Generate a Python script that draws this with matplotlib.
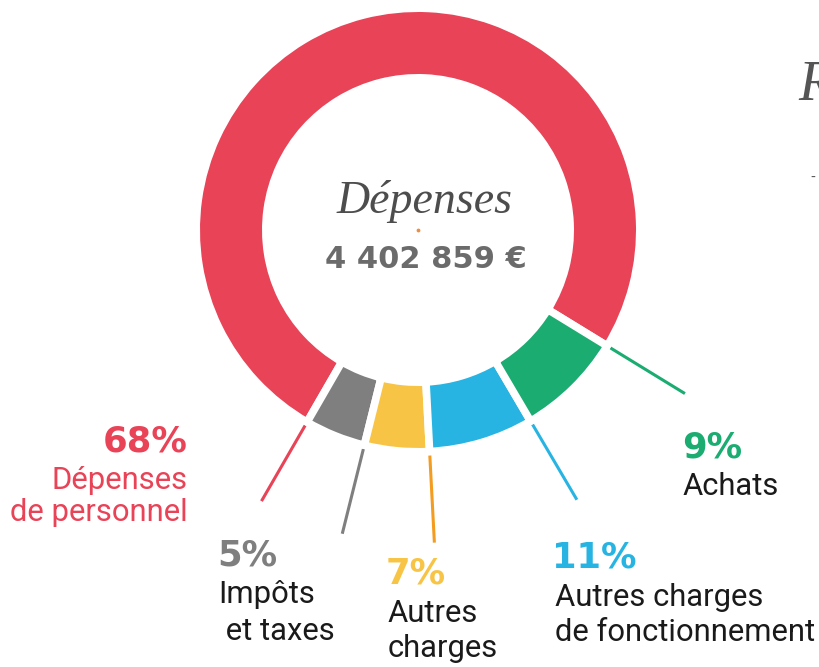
import matplotlib.pyplot as plt
import numpy as np

W, H = 820, 667

# slices, counter-clockwise starting at the red/green boundary
names = ['Dépenses\nde personnel', 'Impôts\n et taxes', 'Autres\ncharges',
         'Autres charges\nde fonctionnement', 'Achats']
pct_labels = ['68%', '5%', '7%', '11%', '9%']
arc_deg = [271.5, 16.0, 17.0, 27.5, 28.0]   # drawn arc sizes
colors = ['#E84357', '#7F7F7F', '#F8C445', '#27B4E2', '#1AAC70']
line_colors = ['#E84357', '#7F7F7F', '#F39C1F', '#27B4E2', '#1AAC70']
total_label = '4 402 859 €'
title = 'Dépenses'

fig = plt.figure(figsize=(W / 100, H / 100), dpi=100)
ax = fig.add_axes([0, 0, 1, 1])

cx, cy, R = 418, 230, 218  # ring centre and outer radius in pixels
lw = 5.5
pad = lw * 1.389 / 2 / R
wedges, _ = ax.pie(arc_deg, colors=colors, startangle=-31.5, counterclock=True,
                   radius=1 + pad,
                   wedgeprops=dict(width=62 / R + 2 * pad, edgecolor='white', linewidth=lw))

ax.set_xlim(-cx / R, (W - cx) / R)
ax.set_ylim(-(H - cy) / R, cy / R)
ax.set_aspect('equal')
ax.axis('off')

# leader lines along the ccw edge of every slice
for i, w in enumerate(wedges):
    a = np.deg2rad(w.theta2)
    r0 = 0.72 if i == 2 else 0.99
    ax.plot([r0 * np.cos(a), 1.436 * np.cos(a)], [r0 * np.sin(a), 1.436 * np.sin(a)],
            color=line_colors[i], lw=2.2, solid_capstyle='butt', zorder=0)

ax.scatter([0], [0], s=3, color='#E8904A', zorder=3)


def ftext(x, y, s, **kw):
    fig.text(x / W, 1 - y / H, s, **kw)


pfont = dict(family='DejaVu Sans', weight='bold', fontsize=25.5, va='baseline')
tfont = dict(family='Roboto', fontsize=22.3, va='baseline', color='#1a1a1a')

# 68%
ftext(188, 452, pct_labels[0], ha='right', color=colors[0], **pfont)
ftext(188, 489, 'Dépenses', ha='right', **{**tfont, 'color': colors[0]})
ftext(188, 521, 'de personnel', ha='right', **{**tfont, 'color': colors[0]})
# 5%
ftext(217, 565, pct_labels[1], ha='left', color=colors[1], **pfont)
ftext(218, 603, 'Impôts', ha='left', **tfont)
ftext(218, 640, ' et taxes', ha='left', **tfont)
# 7%
ftext(386, 584, pct_labels[2], ha='left', color=colors[2], **pfont)
ftext(388, 622, 'Autres', ha='left', **tfont)
ftext(388, 657, 'charges', ha='left', **tfont)
# 11%
ftext(552, 568, pct_labels[3], ha='left', color=colors[3], **pfont)
ftext(555, 606, 'Autres charges', ha='left', **tfont)
ftext(555, 641, 'de fonctionnement', ha='left', **tfont)
# 9%
ftext(682, 457, pct_labels[4], ha='left', color=colors[4], **pfont)
ftext(683, 495, 'Achats', ha='left', **tfont)

# centre
ftext(425, 213, title, ha='center', va='baseline', family='Liberation Serif',
      style='italic', fontsize=33, color='#4d4d4d')
ftext(426, 268, total_label, ha='center', va='baseline', family='DejaVu Sans',
      weight='bold', fontsize=22, color='#6b6b6b')

# bits of the neighbouring chart cut by the right edge
ftext(798, 100, 'R', ha='left', va='baseline', family='Liberation Serif',
      style='italic', fontsize=40, color='#555555')
ftext(810, 182, '-', ha='left', va='baseline', family='DejaVu Sans',
      fontsize=10, color='#555555')

fig.savefig('out.png', dpi=100)
